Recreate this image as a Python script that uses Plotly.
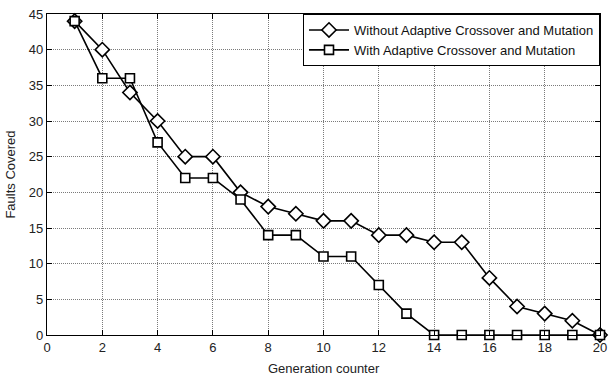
import plotly.graph_objects as go

generations = list(range(1, 21))
without_adaptive = [44, 40, 34, 30, 25, 25, 20, 18, 17, 16, 16, 14, 14, 13, 13, 8, 4, 3, 2, 0]
with_adaptive = [44, 36, 36, 27, 22, 22, 19, 14, 14, 11, 11, 7, 3, 0, 0, 0, 0, 0, 0, 0]
x_ticks = list(range(0, 21, 2))
y_ticks = list(range(0, 46, 5))

FONT = "Liberation Sans, Arial, sans-serif"

fig = go.Figure()
fig.add_trace(go.Scatter(
    x=generations, y=without_adaptive, mode="lines+markers",
    name="Without Adaptive Crossover and Mutation",
    line=dict(color="black", width=1.6),
    marker=dict(symbol="diamond", size=11, color="white",
                line=dict(color="black", width=1.6)),
    cliponaxis=False,
))
fig.add_trace(go.Scatter(
    x=generations, y=with_adaptive, mode="lines+markers",
    name="With Adaptive Crossover and Mutation",
    line=dict(color="black", width=1.6),
    marker=dict(symbol="square", size=9, color="white",
                line=dict(color="black", width=1.6)),
    cliponaxis=False,
))

axis_common = dict(
    showline=True, linecolor="black", linewidth=1.2, mirror="ticks",
    ticks="inside", ticklen=5, tickcolor="black",
    showgrid=True, gridcolor="#7a7a7a", griddash="1px,1px", gridwidth=1,
    zeroline=False,
    tickfont=dict(family=FONT, size=13, color="#222"),
)

fig.update_layout(
    width=614, height=376,
    margin=dict(l=47, r=7, t=12, b=41),
    paper_bgcolor="white", plot_bgcolor="white",
    font=dict(family=FONT, color="#222"),
    xaxis=dict(range=[0, 20], tickvals=x_ticks, **axis_common),
    yaxis=dict(range=[0, 45], tickvals=y_ticks,
               title=dict(text="Faults Covered", font=dict(family=FONT, size=13), standoff=10),
               **axis_common),
    legend=dict(
        x=1, y=1, xanchor="right", yanchor="top",
        bgcolor="white", bordercolor="black", borderwidth=1,
        font=dict(family=FONT, size=13, color="#111"),
        tracegroupgap=0, itemwidth=40,
    ),
    showlegend=True,
)

# x-axis title placed as an annotation so it can sit below the margin limit
fig.add_annotation(
    text="Generation counter", xref="paper", yref="paper",
    x=0.5, y=0, xanchor="center", yanchor="middle", yshift=-33,
    showarrow=False, font=dict(family=FONT, size=13, color="#222"),
)

fig.write_html("out.html")
